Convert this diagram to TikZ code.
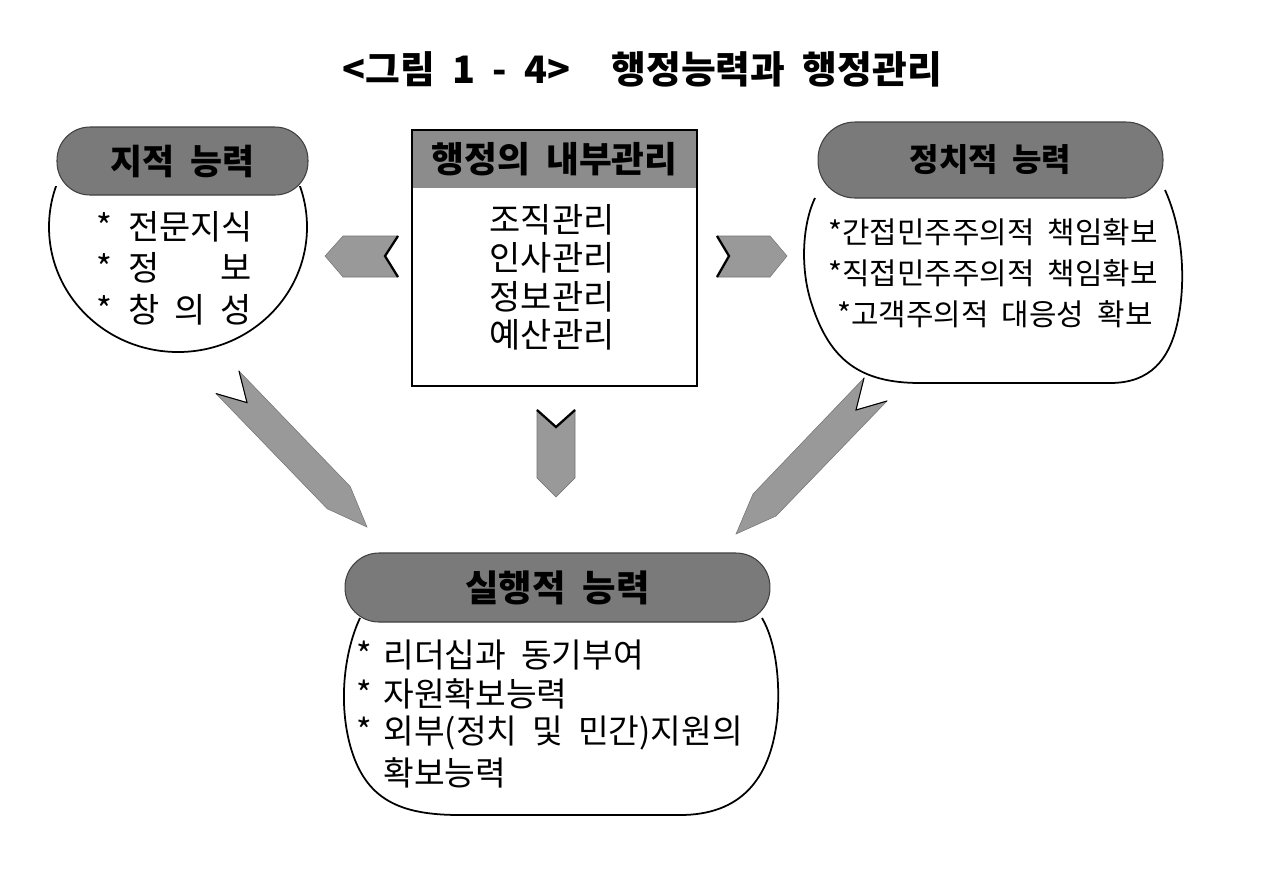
\documentclass[tikz,border=0pt]{standalone}
\usepackage{fontspec}
\setmainfont{Noto Sans CJK KR}[WordSpace=2]
\usetikzlibrary{calc}
\begin{document}
\begin{tikzpicture}[x=0.02cm,y=-0.02cm,
  pill/.style={draw=black!75, line width=0.6pt, fill=black!52, inner sep=0pt},
  bodyline/.style={draw=black, line width=1pt},
  txt/.style={inner sep=0pt, font=\fontsize{19.3pt}{22pt}\selectfont},
  btxt/.style={inner sep=0pt, font=\fontsize{19pt}{22pt}\selectfont},
  rtxt/.style={inner sep=0pt, font=\fontsize{17pt}{20pt}\selectfont},
  blockarrow/.style={fill=black!40, draw=black!55, line width=0.3pt},
  notchline/.style={draw=black, line width=1.3pt}
]
\useasboundingbox[fill=white] (0,0) rectangle (1280,877);

% title
\node[inner sep=0pt, font=\fontsize{21.5pt}{24pt}\selectfont\bfseries] (title) at (642,69) {<그림 1 - 4>\hspace{1.1em}행정능력과 행정관리};

% ---------- left node: 지적 능력 ----------
\begin{scope}
  \clip (0,186) rectangle (640,877);
  \draw[bodyline] (178,227) ellipse [x radius=129, y radius=125];
\end{scope}
\node[pill, rounded corners=0.66cm, minimum width=5.02cm, minimum height=1.36cm,
      font=\fontsize{19.8pt}{22pt}\selectfont\bfseries] (know) at (182.5,161) {지적 능력};
\node[txt, anchor=west] (l1) at (96,227) {\makebox[0.64cm][l]{*}전문지식};
\node[txt, anchor=west] (l2) at (96,268) {\makebox[0.64cm][l]{*}\makebox[2.46cm][s]{정\hfill 보}};
\node[txt, anchor=west] (l3) at (96,310) {\makebox[0.64cm][l]{*}\makebox[2.46cm][s]{창\hfill 의\hfill 성}};

% ---------- centre box ----------
\node[fill=black!45, minimum width=5.7cm, minimum height=1.16cm, inner sep=0pt,
      font=\fontsize{20.3pt}{22pt}\selectfont\bfseries] (boxhead) at (554.5,159) {행정의 내부관리};
\node[draw=black, line width=0.8pt, minimum width=5.7cm, minimum height=5.12cm, inner sep=0pt] (box) at (554.5,258) {};
\node[txt] (c1) at (552,220) {조직관리};
\node[txt] (c2) at (552,258) {인사관리};
\node[txt] (c3) at (552,297) {정보관리};
\node[txt] (c4) at (552,335) {예산관리};

% ---------- right node: 정치적 능력 ----------
\draw[bodyline] (815,198) .. controls (802,225) and (800,270) .. (812,305)
  .. controls (830,360) and (860,383) .. (920,383) -- (1110,383)
  .. controls (1150,383) and (1170,360) .. (1178,320)
  .. controls (1186,280) and (1183,230) .. (1165,190);
\node[pill, rounded corners=0.74cm, minimum width=6.9cm, minimum height=1.52cm,
      font=\fontsize{18.2pt}{20pt}\selectfont\bfseries] (pol) at (990.5,160) {정치적 능력};
\node[rtxt] (r1) at (993,232) {*간접민주주의적 책임확보};
\node[rtxt] (r2) at (993,273) {*직접민주주의적 책임확보};
\node[rtxt] (r3) at (995,314) {*고객주의적 대응성 확보};

% ---------- bottom node: 실행적 능력 ----------
\draw[bodyline] (360,618) .. controls (345,650) and (338,700) .. (350,745)
  .. controls (365,800) and (400,815) .. (460,815) -- (680,815)
  .. controls (740,815) and (770,780) .. (777,720)
  .. controls (781,680) and (775,640) .. (762,618);
\node[pill, rounded corners=0.68cm, minimum width=8.5cm, minimum height=1.38cm,
      font=\fontsize{20.7pt}{22pt}\selectfont\bfseries] (exec) at (557.5,587.5) {실행적 능력};
\node[btxt, anchor=west] (b1) at (356,655) {\makebox[0.54cm][l]{*}리더십과 동기부여};
\node[btxt, anchor=west] (b2) at (356,694) {\makebox[0.54cm][l]{*}자원확보능력};
\node[btxt, anchor=west] (b3) at (356,733) {\makebox[0.54cm][l]{*}외부(정치 및 민간)지원의};
\node[btxt, anchor=west] (b4) at (383,773) {확보능력};

% ---------- chevrons beside the centre box ----------
\fill[blockarrow] (325,256) -- (343,236) -- (398,236) -- (385,256) -- (398,277) -- (343,277) -- cycle;
\draw[notchline] (398,236) -- (385,256) -- (398,277);
\fill[blockarrow] (717,236) -- (770,236) -- (787,256) -- (770,277) -- (717,277) -- (729,256) -- cycle;
\draw[notchline] (717,236) -- (729,256) -- (717,277);

% ---------- block arrows toward the bottom node ----------
\fill[blockarrow] (239,371) -- (247,402.6) -- (216,393.6) -- (327.2,508.7) -- (367,527) -- (350.2,486.5) -- cycle;
\draw[notchline, line width=0.6pt] (239,371) -- (247,402.6) -- (216,393.6);
\fill[blockarrow] (537,410) -- (556,427) -- (575,410) -- (575,478) -- (556,497) -- (537,478) -- cycle;
\draw[notchline] (537,410) -- (556,427) -- (575,410);
\fill[blockarrow] (864,378) -- (856,410) -- (887,401) -- (776,516) -- (736,534) -- (753,494) -- cycle;
\draw[notchline, line width=0.6pt] (864,378) -- (856,410) -- (887,401);
\end{tikzpicture}
\end{document}
